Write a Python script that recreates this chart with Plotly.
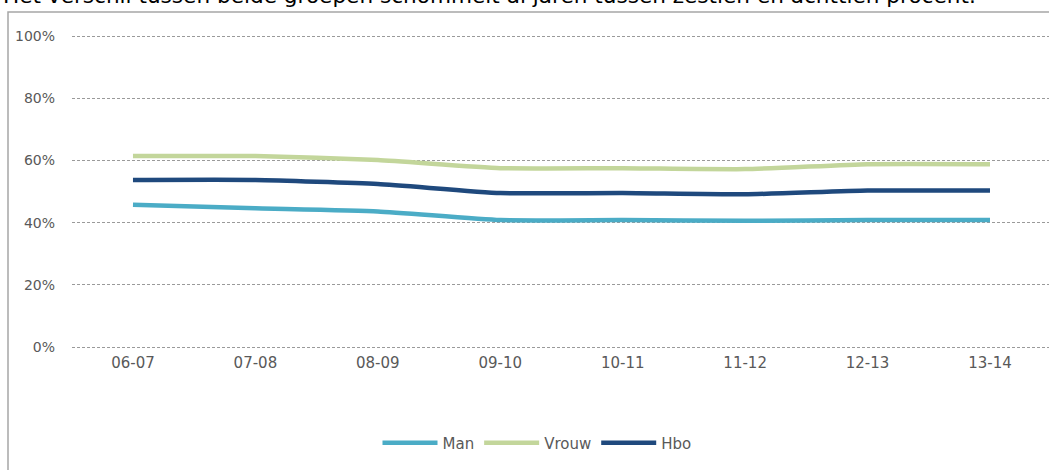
import plotly.graph_objects as go

categories = ["06-07", "07-08", "08-09", "09-10", "10-11", "11-12", "12-13", "13-14"]
man = [45.7, 44.6, 43.6, 40.8, 40.8, 40.6, 40.8, 40.8]
vrouw = [61.4, 61.4, 60.1, 57.5, 57.5, 57.2, 58.8, 58.8]
hbo = [53.7, 53.7, 52.4, 49.5, 49.5, 49.1, 50.3, 50.3]
y_ticks = [0, 20, 40, 60, 80, 100]
y_tick_labels = ["0%", "20%", "40%", "60%", "80%", "100%"]
title_text = "Het verschil tussen beide groepen schommelt al jaren tussen zestien en achttien procent."

series = [
    ("Man", man, "#4BACC6"),
    ("Vrouw", vrouw, "#C3D69B"),
    ("Hbo", hbo, "#1F497D"),
]

fig = go.Figure()
for name, vals, color in series:
    fig.add_trace(go.Scatter(
        x=list(range(len(categories))), y=vals, name=name, mode="lines",
        line=dict(color=color, width=4.5, shape="spline", smoothing=0.5),
        hoverinfo="skip",
    ))

W, H = 1049, 470
ml, mr, mt, mb = 72, 0, 34, 121
pw = W - ml - mr
ph = H - mt - mb
# 100% at y=36px, 0% at y=347px
unit_px = (347 - 36) / 100.0
y0r = -((H - mb) - 347) / unit_px
y1r = 100 + (36 - mt) / unit_px

def px_to_paper_x(px):
    return (px - ml) / pw

def px_to_paper_y(py):
    return (H - mb - py) / ph

fig.update_layout(
    width=W, height=H,
    margin=dict(l=ml, r=mr, t=mt, b=mb, pad=0),
    paper_bgcolor="white", plot_bgcolor="white",
    font=dict(family="DejaVu Sans", size=14, color="#595959"),
    showlegend=True,
    legend=dict(
        orientation="h", x=px_to_paper_x(537), xanchor="center",
        y=px_to_paper_y(443), yanchor="middle",
        font=dict(size=15, color="#595959"), itemwidth=55,
        traceorder="normal", bgcolor="rgba(0,0,0,0)",
    ),
    xaxis=dict(
        range=[-0.498, 7.482], tickmode="array",
        tickvals=list(range(len(categories))), ticktext=categories,
        tickfont=dict(size=15),
        showgrid=False, zeroline=False, showline=False, ticks="",
        ticklabelstandoff=3,
        fixedrange=True,
    ),
    yaxis=dict(
        range=[y0r, y1r], tickmode="array", tickvals=y_ticks, ticktext=y_tick_labels,
        showgrid=True, gridcolor="#9A9A9A", griddash="3px,2px", gridwidth=1,
        zeroline=False, showline=False, ticks="", ticklabelstandoff=16,
        fixedrange=True,
    ),
    shapes=[dict(
        type="rect", xref="paper", yref="paper",
        x0=px_to_paper_x(8), x1=px_to_paper_x(1100),
        y0=px_to_paper_y(500), y1=px_to_paper_y(12),
        line=dict(color="#A6A6A6", width=1.5), fillcolor="rgba(0,0,0,0)",
        layer="below",
    )],
    annotations=[dict(
        text=title_text, xref="paper", yref="paper",
        x=px_to_paper_x(1), xanchor="left",
        y=px_to_paper_y(10), yanchor="bottom",
        showarrow=False, font=dict(family="DejaVu Sans", size=21.6, color="#000000"),
    )],
)

fig.write_html(
    "out.html",
    config={"displayModeBar": False, "staticPlot": True},
    post_script="document.body.style.margin='0';document.body.style.overflow='hidden';",
)
